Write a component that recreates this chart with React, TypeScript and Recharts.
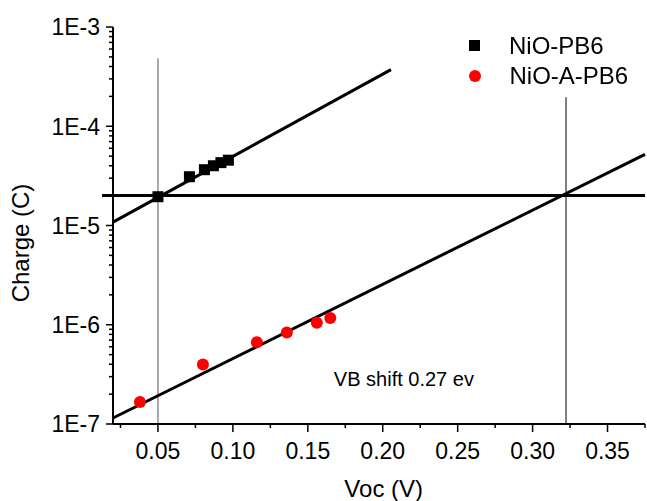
import React from 'react';
import {
  ScatterChart, Scatter, XAxis, YAxis, ReferenceLine, ReferenceDot, Legend,
} from 'recharts';

// ---- data ----
const seriesNames = ['NiO-PB6', 'NiO-A-PB6'];
const seriesColors = ['#000000', '#ff0000'];

const nioPB6X = [0.05, 0.071, 0.081, 0.087, 0.092, 0.097];
const nioPB6Y = [1.95e-5, 3.1e-5, 3.65e-5, 4.0e-5, 4.3e-5, 4.55e-5];

const nioAPB6X = [0.038, 0.080, 0.116, 0.136, 0.156, 0.165];
const nioAPB6Y = [1.67e-7, 3.98e-7, 6.68e-7, 8.36e-7, 1.05e-6, 1.17e-6];

// fitted lines (endpoints)
const fitPB6X = [0.02, 0.2055];
const fitPB6Y = [1.08e-5, 3.72e-4];
const fitAPB6X = [0.02, 0.375];
const fitAPB6Y = [1.15e-7, 5.2e-5];

// guide lines
const levelCharge = 2e-5;
const levelLineX = [0.0127, 0.375];
const guide1X = 0.05;
const guide1Y = [1e-7, 4.84e-4];
const guide2X = 0.3223;
const guide2Y = [1e-7, 1.96e-4];

const annotationText = 'VB shift 0.27 ev';
const annotationX = 0.2141;
const annotationY = 2.83e-7;

// axes
const xDomain = [0.02, 0.375];
const xMajorTicks = [0.05, 0.1, 0.15, 0.2, 0.25, 0.3, 0.35];
const xTickLabels = ['0.05', '0.10', '0.15', '0.20', '0.25', '0.30', '0.35'];
const xMinorTicks = [0.025, 0.075, 0.125, 0.175, 0.225, 0.275, 0.325, 0.375];
const yDomain = [1e-7, 1e-3];
const yMajorTicks = [1e-7, 1e-6, 1e-5, 1e-4, 1e-3];
const yTickLabels = ['1E-7', '1E-6', '1E-5', '1E-4', '1E-3'];
const yMinorMultipliers = [2, 3, 4, 5, 6, 7, 8, 9];
const xTitle = 'Voc (V)';
const yTitle = 'Charge (C)';

const pb6Data = nioPB6X.map((x, i) => ({ x, y: nioPB6Y[i] }));
const apb6Data = nioAPB6X.map((x, i) => ({ x, y: nioAPB6Y[i] }));
const yMinorTicks = yMajorTicks.slice(0, -1).flatMap((d) => yMinorMultipliers.map((m) => d * m));
const allYTicks = [...yMajorTicks, ...yMinorTicks];
const allXTicks = [...xMajorTicks, ...xMinorTicks];

const FONT = '"Liberation Sans", Arial, sans-serif';

const isMajorX = (v: number) => xMajorTicks.some((t) => Math.abs(t - v) < 1e-9);
const isMajorY = (v: number) => yMajorTicks.some((t) => Math.abs(t - v) / t < 1e-6);

const XTick = (props: any) => {
  const { x, y, payload } = props;
  const v = payload.value;
  const major = isMajorX(v);
  const idx = xMajorTicks.findIndex((t) => Math.abs(t - v) < 1e-9);
  return (
    <g>
      <line x1={x} x2={x} y1={y} y2={y + (major ? 8 : 4)} stroke="#000" strokeWidth={1.5} />
      {major && (
        <text x={x} y={y + 35} textAnchor="middle" fontSize={23} fontFamily={FONT} fill="#000">
          {xTickLabels[idx]}
        </text>
      )}
    </g>
  );
};

const TopTick = (props: any) => {
  const { x, y } = props;
  return <line x1={x} x2={x} y1={y} y2={y + 3} stroke="#000" strokeWidth={1} />;
};

const YTick = (props: any) => {
  const { x, y, payload } = props;
  const v = payload.value;
  const major = isMajorY(v);
  const idx = yMajorTicks.findIndex((t) => Math.abs(t - v) / t < 1e-6);
  return (
    <g>
      <line x1={x} x2={x - (major ? 7 : 4)} y1={y} y2={y} stroke="#000" strokeWidth={1.5} />
      {major && (
        <text x={x - 13} y={y} dy="0.36em" textAnchor="end" fontSize={23} fontFamily={FONT} fill="#000">
          {yTickLabels[idx]}
        </text>
      )}
    </g>
  );
};

const SquareShape = (props: any) => {
  const { cx, cy } = props;
  return <rect x={cx - 5.5} y={cy - 5.5} width={11} height={11} fill={seriesColors[0]} />;
};
const CircleShape = (props: any) => {
  const { cx, cy } = props;
  return <circle cx={cx} cy={cy} r={6} fill={seriesColors[1]} />;
};

const LegendContent = () => (
  <div style={{ fontFamily: FONT, fontSize: 24, color: '#000' }}>
    {seriesNames.map((name, i) => (
      <div key={name} style={{ display: 'flex', alignItems: 'center', height: 30.5 }}>
        <div
          style={{
            width: i === 0 ? 11 : 12,
            height: i === 0 ? 11 : 12,
            borderRadius: i === 0 ? 0 : 6,
            background: seriesColors[i],
            marginRight: i === 0 ? 29.5 : 29,
            flex: 'none',
          }}
        />
        <span style={{ lineHeight: '30px', whiteSpace: 'nowrap' }}>{name}</span>
      </div>
    ))}
  </div>
);

export default function App() {
  return (
    <div style={{ position: 'fixed', left: 0, top: 0, width: 647, height: 501, background: '#fff' }}>
      <ScatterChart width={647} height={501} margin={{ top: 27, right: 2, left: 0, bottom: 0 }}>
        <XAxis
          xAxisId="bottom"
          type="number"
          dataKey="x"
          domain={xDomain}
          allowDataOverflow
          ticks={allXTicks}
          tick={<XTick />}
          tickLine={false}
          tickSize={0}
          tickMargin={0}
          height={77}
          axisLine={{ stroke: '#000', strokeWidth: 2 }}
          interval={0}
          label={() => (
            <text x={383.7} y={497} textAnchor="middle" fontSize={24} fontFamily={FONT} fill="#000">
              {xTitle}
            </text>
          )}
        />
        <XAxis
          xAxisId="top"
          orientation="top"
          type="number"
          dataKey="x"
          domain={xDomain}
          allowDataOverflow
          ticks={allXTicks}
          tick={<TopTick />}
          tickLine={false}
          tickSize={0}
          tickMargin={0}
          height={0}
          axisLine={{ stroke: '#000', strokeWidth: 2 }}
          interval={0}
        />
        <YAxis
          yAxisId="left"
          type="number"
          dataKey="y"
          scale="log"
          domain={yDomain}
          allowDataOverflow
          ticks={allYTicks}
          tick={<YTick />}
          tickLine={false}
          tickSize={0}
          tickMargin={0}
          width={113}
          axisLine={{ stroke: '#000', strokeWidth: 2 }}
          interval={0}
          label={() => (
            <text
              transform="translate(29.3, 243) rotate(-90)"
              x={0}
              y={0}
              textAnchor="middle"
              fontSize={24}
              fontFamily={FONT}
              fill="#000"
            >
              {yTitle}
            </text>
          )}
        />
        <Legend
          layout="horizontal"
          verticalAlign="middle"
          align="center"
          content={<LegendContent />}
          wrapperStyle={{ left: 468.5, top: 30.25, width: 180, height: 62, margin: 0, padding: 0 }}
        />
        <ReferenceLine
          xAxisId="bottom"
          yAxisId="left"
          segment={[{ x: guide1X, y: guide1Y[0] }, { x: guide1X, y: guide1Y[1] }]}
          stroke="#707070"
          strokeWidth={1.2}
          ifOverflow="visible"
        />
        <ReferenceLine
          xAxisId="bottom"
          yAxisId="left"
          segment={[{ x: guide2X, y: guide2Y[0] }, { x: guide2X, y: guide2Y[1] }]}
          stroke="#000"
          strokeWidth={1}
          ifOverflow="visible"
        />
        <ReferenceLine
          xAxisId="bottom"
          yAxisId="left"
          segment={[{ x: levelLineX[0], y: levelCharge }, { x: levelLineX[1], y: levelCharge }]}
          stroke="#000"
          strokeWidth={3}
          ifOverflow="visible"
        />
        <ReferenceLine
          xAxisId="bottom"
          yAxisId="left"
          segment={[{ x: fitPB6X[0], y: fitPB6Y[0] }, { x: fitPB6X[1], y: fitPB6Y[1] }]}
          stroke="#000"
          strokeWidth={3}
          ifOverflow="visible"
        />
        <ReferenceLine
          xAxisId="bottom"
          yAxisId="left"
          segment={[{ x: fitAPB6X[0], y: fitAPB6Y[0] }, { x: fitAPB6X[1], y: fitAPB6Y[1] }]}
          stroke="#000"
          strokeWidth={3}
          ifOverflow="visible"
        />
        <Scatter
          name={seriesNames[0]}
          data={pb6Data}
          xAxisId="bottom"
          yAxisId="left"
          shape={<SquareShape />}
          isAnimationActive={false}
        />
        <Scatter
          name={seriesNames[1]}
          data={apb6Data}
          xAxisId="bottom"
          yAxisId="left"
          shape={<CircleShape />}
          isAnimationActive={false}
        />
        <ReferenceDot
          xAxisId="bottom"
          yAxisId="left"
          x={annotationX}
          y={annotationY}
          r={0}
          fill="none"
          stroke="none"
          ifOverflow="visible"
          label={{ value: annotationText, position: 'center', fontSize: 20, fill: '#000', fontFamily: FONT }}
        />
      </ScatterChart>
    </div>
  );
}
